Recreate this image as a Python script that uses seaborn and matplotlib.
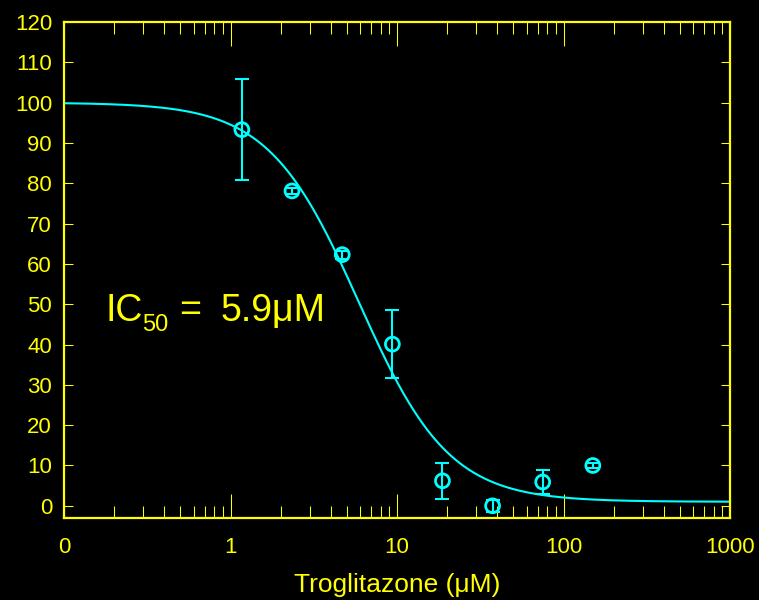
import numpy as np
import pandas as pd
import matplotlib
matplotlib.use("Agg")
import matplotlib.pyplot as plt
import matplotlib.ticker as mticker
import seaborn as sns

# Measured viability (% of control) vs troglitazone concentration (uM)
conc = [1.17, 2.34, 4.69, 9.38, 18.75, 37.5, 75.0, 150.0]
response = [93.3, 78.1, 62.3, 40.1, 6.2, 0.0, 5.9, 10.0]
error = [12.6, 0.8, 1.0, 8.4, 4.4, 1.5, 3.0, 0.6]

# Four-parameter logistic fit parameters
fit_top = 100.0
fit_bottom = 1.0
ic50 = 5.9
hill = 1.6

x_ticks = [0.1, 1, 10, 100, 1000]
x_tick_labels = ["0", "1", "10", "100", "1000"]
y_ticks = list(range(0, 121, 10))

YELLOW = "#FFFF00"
CYAN = "#00FFFF"
W, H = 759, 600

sns.set_theme(style="ticks")
plt.rcParams["font.family"] = ["Liberation Sans", "DejaVu Sans"]

fig = plt.figure(figsize=(W / 100, H / 100), dpi=100, facecolor="black")
ax = fig.add_axes([64 / W, 1 - 517.5 / H, (730 - 64) / W, (517.5 - 22) / H])
ax.set_facecolor("black")

# fitted dose-response curve
xs = np.logspace(-1, 3, 500)
curve = pd.DataFrame({
    "conc": xs,
    "fit": fit_bottom + (fit_top - fit_bottom) / (1 + (xs / ic50) ** hill),
})
sns.lineplot(data=curve, x="conc", y="fit", color=CYAN, lw=1.5, ax=ax)

data = pd.DataFrame({"conc": conc, "response": response, "err": error})
ax.errorbar(data["conc"], data["response"], yerr=data["err"], fmt="none",
            ecolor=CYAN, elinewidth=1.5, capsize=5, capthick=1.5, zorder=3)
sns.scatterplot(data=data, x="conc", y="response", marker="o", s=100,
                facecolor="none", edgecolor=CYAN, linewidth=2.0, ax=ax, zorder=4)

ax.set_xscale("log")
ax.set_xlim(0.1, 1000)
ax.set_ylim(-2.9, 120)

ax.xaxis.set_major_locator(mticker.FixedLocator(x_ticks))
ax.xaxis.set_major_formatter(mticker.FixedFormatter(x_tick_labels))
ax.xaxis.set_minor_locator(mticker.LogLocator(base=10, subs=np.arange(2, 10), numticks=20))
ax.xaxis.set_minor_formatter(mticker.NullFormatter())
ax.set_yticks(y_ticks)
ax.yaxis.set_minor_locator(mticker.NullLocator())

ax.tick_params(axis="x", which="major", direction="in", length=17.5, width=0.75,
               colors=YELLOW, labelsize=16, pad=14, top=True, bottom=True)
ax.tick_params(axis="x", which="minor", direction="in", length=8.6, width=0.75,
               colors=YELLOW, top=True, bottom=True)
ax.tick_params(axis="y", which="major", direction="in", length=6.5, width=0.75,
               colors=YELLOW, labelsize=16, pad=8.6, left=True, right=True)

for sp in ax.spines.values():
    sp.set_color(YELLOW)
    sp.set_linewidth(1.6)
    sp.set_visible(True)

ax.set_xlabel("Troglitazone (μM)", color=YELLOW, fontsize=19, labelpad=11)
ax.set_ylabel("")

# IC50 annotation, built from pieces so the subscript sits like typeset text
def fig_xy(px, py):
    return px / W, 1 - py / H

for txt, px, py, size in [("IC", 106, 321, 27), ("50", 142, 331, 17),
                          ("=", 179, 321, 27), ("5.9μM", 221, 321, 27)]:
    fx, fy = fig_xy(px, py)
    fig.text(fx, fy, txt, color=YELLOW, fontsize=size, va="baseline", ha="left")

fig.savefig("out.png", dpi=100, facecolor="black")
